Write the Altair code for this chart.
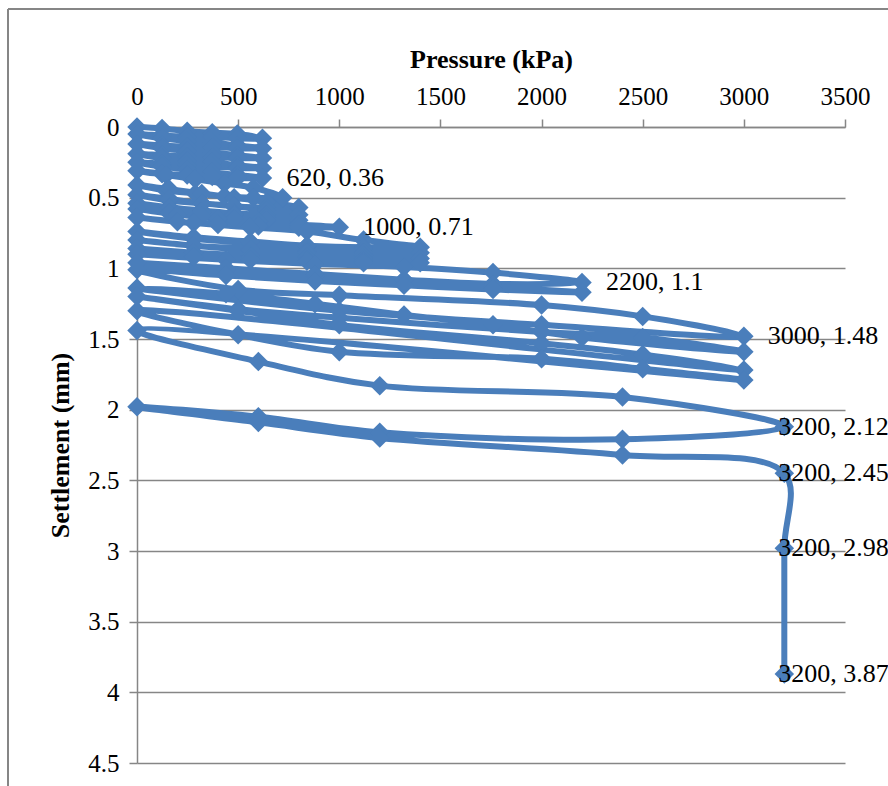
import altair as alt
import pandas as pd

# ---------------- data (pressure kPa, settlement mm), in test order ----------------
s1_p = [0, 124, 248, 372, 496, 620, 496, 372, 248, 124, 0,
        124, 248, 372, 496, 620, 496, 372, 248, 124, 0,
        124, 248, 372, 496, 620, 496, 372, 248, 124, 0,
        124, 248, 372, 496, 620, 496, 372, 248, 124, 0,
        124, 248, 372, 496, 620, 496, 372, 248, 124, 0]
s1_s = [0.00, 0.01, 0.03, 0.04, 0.05, 0.08, 0.08, 0.07, 0.07, 0.06, 0.05,
        0.08, 0.10, 0.11, 0.13, 0.15, 0.15, 0.14, 0.14, 0.13, 0.12,
        0.15, 0.17, 0.18, 0.20, 0.22, 0.22, 0.21, 0.21, 0.20, 0.19,
        0.22, 0.24, 0.25, 0.27, 0.29, 0.29, 0.28, 0.27, 0.26, 0.25,
        0.28, 0.30, 0.32, 0.34, 0.36, 0.36, 0.35, 0.34, 0.33, 0.31]

s2_p = [144, 288, 432, 576, 720, 576, 432, 288, 144, 0,
        160, 320, 480, 640, 800, 640, 480, 320, 160, 0,
        160, 320, 480, 640, 800, 640, 480, 320, 160, 0,
        160, 320, 480, 640, 800, 640, 480, 320, 160, 0]
s2_s = [0.34, 0.37, 0.40, 0.43, 0.50, 0.50, 0.49, 0.47, 0.45, 0.41,
        0.44, 0.47, 0.50, 0.53, 0.57, 0.57, 0.56, 0.54, 0.52, 0.48,
        0.51, 0.54, 0.56, 0.59, 0.62, 0.62, 0.61, 0.59, 0.57, 0.54,
        0.57, 0.60, 0.62, 0.64, 0.66, 0.66, 0.65, 0.63, 0.61, 0.58]

s3_p = [200, 400, 600, 800, 1000, 800, 600, 400, 200, 0]
s3_s = [0.62, 0.65, 0.67, 0.69, 0.71, 0.71, 0.70, 0.69, 0.67, 0.64]

s4_p = [280, 560, 840, 1120, 1400, 1120, 840, 560, 280, 0,
        280, 560, 840, 1120, 1400, 1120, 840, 560, 280, 0,
        280, 560, 840, 1120, 1400, 1120, 840, 560, 280, 0,
        280, 560, 840, 1120, 1400, 1120, 840, 560, 280, 0]
s4_s = [0.68, 0.71, 0.74, 0.80, 0.85, 0.85, 0.84, 0.82, 0.79, 0.74,
        0.78, 0.81, 0.84, 0.86, 0.89, 0.89, 0.88, 0.86, 0.84, 0.80,
        0.84, 0.87, 0.89, 0.91, 0.93, 0.93, 0.92, 0.91, 0.89, 0.86,
        0.89, 0.92, 0.94, 0.95, 0.96, 0.96, 0.95, 0.94, 0.92, 0.90]

s5_p = [440, 880, 1320, 1760, 2200, 1760, 1320, 880, 440, 0,
        440, 880, 1320, 1760, 2200, 1760, 1320, 880, 440, 0]
s5_s = [0.94, 0.97, 0.99, 1.03, 1.10, 1.11, 1.08, 1.05, 1.01, 0.96,
        1.00, 1.04, 1.08, 1.13, 1.17, 1.15, 1.12, 1.09, 1.05, 1.01]

s6_p = [500, 1000, 2000, 2500, 3000, 2000, 1000, 0,
        440, 880, 1320, 1760, 2200, 3000, 2500, 2000, 1000, 500, 0,
        500, 1000, 2000, 2500, 3000, 0,
        500, 1000, 2000, 2500, 3000, 0]
s6_s = [1.15, 1.19, 1.26, 1.34, 1.48, 1.40, 1.30, 1.14,
        1.18, 1.25, 1.33, 1.40, 1.49, 1.59, 1.49, 1.45, 1.35, 1.29, 1.20,
        1.30, 1.40, 1.53, 1.61, 1.72, 1.30,
        1.47, 1.59, 1.64, 1.71, 1.79, 1.44]

s7_p = [600, 1200, 2400, 3200, 2400, 1200, 600, 0, 600, 1200, 2400, 3200, 3200, 3200]
s7_s = [1.66, 1.83, 1.91, 2.12, 2.21, 2.16, 2.05, 1.98, 2.09, 2.20, 2.32, 2.45, 2.98, 3.87]

label_p = [620, 1000, 2200, 3000, 3200, 3200, 3200, 3200]
label_s = [0.36, 0.71, 1.1, 1.48, 2.12, 2.45, 2.98, 3.87]

x_ticks = [0, 500, 1000, 1500, 2000, 2500, 3000, 3500]
y_ticks = [0, 0.5, 1, 1.5, 2, 2.5, 3, 3.5, 4, 4.5]

# ---------------- tables ----------------
pressure = s1_p + s2_p + s3_p + s4_p + s5_p + s6_p + s7_p
settlement = s1_s + s2_s + s3_s + s4_s + s5_s + s6_s + s7_s
df = pd.DataFrame({"p": pressure, "s": settlement, "i": list(range(len(pressure)))})

lab = pd.DataFrame({"p": label_p, "s": label_s})
lab["t"] = [f"{p}, {s:g}" for p, s in zip(label_p, label_s)]
lab["edge"] = [p >= 3200 for p in label_p]

BLUE = "#4A7EBB"
GRAY = "#868686"
FONT = "Liberation Serif"

xs = alt.Scale(domain=[0, 3500], nice=False, zero=False)
ys = alt.Scale(domain=[0, 4.5], reverse=True, nice=False, zero=False)

x_enc = alt.X("p:Q", scale=xs,
              axis=alt.Axis(orient="top", values=x_ticks, title="Pressure (kPa)", grid=False,
                            format="d", labelPadding=10, titlePadding=12, labelFlush=False))
y_enc = alt.Y("s:Q", scale=ys,
              axis=alt.Axis(values=y_ticks, title="Settlement (mm)", grid=True, format="~g",
                            labelPadding=10, titlePadding=14, labelFlush=False))

base = alt.Chart(df)
line = base.mark_line(interpolate="catmull-rom", color=BLUE, strokeWidth=6).encode(
    x=x_enc, y=y_enc, order="i:Q")
pts = base.mark_point(shape="diamond", filled=True, size=380, color=BLUE, opacity=1).encode(
    x="p:Q", y="s:Q")

lab_in = alt.Chart(lab).transform_filter("!datum.edge").mark_text(
    align="left", baseline="middle", dx=24, font=FONT, fontSize=26, color="black").encode(
    x="p:Q", y="s:Q", text="t:N")
lab_edge = alt.Chart(lab).transform_filter("datum.edge").mark_text(
    align="left", baseline="middle", dx=-6, font=FONT, fontSize=26, color="black").encode(
    x="p:Q", y="s:Q", text="t:N")

frame_left = alt.Chart(df).mark_rule(color=GRAY, strokeWidth=1.5).encode(
    x=alt.value(-129), y=alt.value(-118), y2=alt.value(700))
frame_top = alt.Chart(df).mark_rule(color=GRAY, strokeWidth=1.5).encode(
    x=alt.value(-129), x2=alt.value(800), y=alt.value(-118))

chart = alt.layer(frame_left, frame_top, line, pts, lab_in, lab_edge).properties(
    width=708, height=636,
    background="white",
    padding={"left": 137, "top": 127, "right": 43, "bottom": 23},
    autosize=alt.AutoSizeParams(type="none"),
).configure_view(stroke=None).configure_axis(
    domainColor=GRAY, domainWidth=1.5, tickColor=GRAY, tickWidth=1.5, tickSize=8,
    gridColor=GRAY, gridWidth=1.5,
    labelFont=FONT, labelFontSize=25, labelColor="black",
    titleFont=FONT, titleFontSize=26, titleFontWeight="bold", titleColor="black",
)

chart.save("out.html", embed_options={"renderer": "svg", "actions": False})
